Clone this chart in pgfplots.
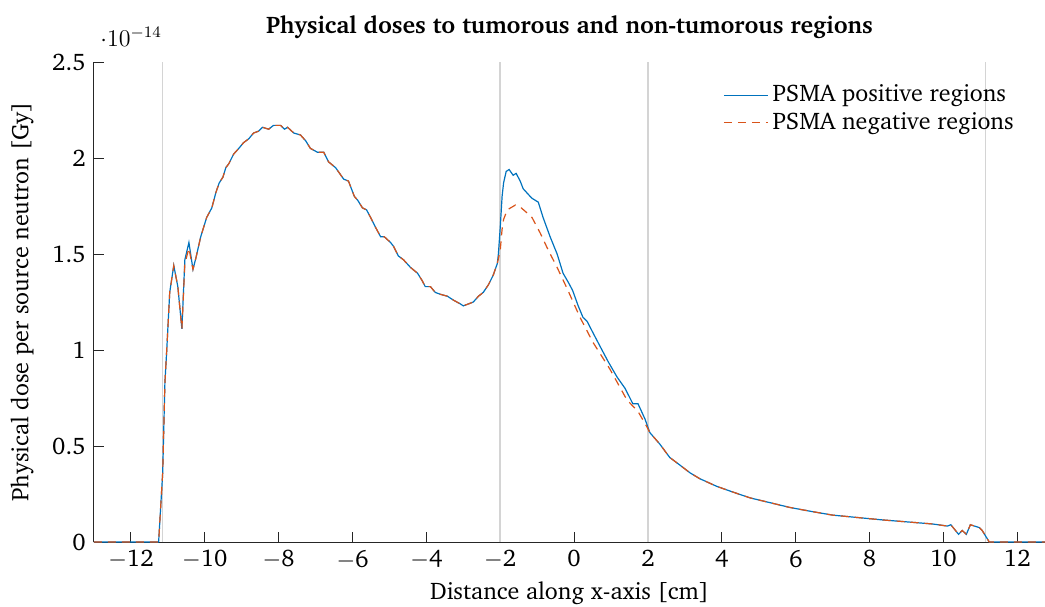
\documentclass[border=0pt]{standalone}
\usepackage[T1]{fontenc}
\renewcommand{\rmdefault}{bch}
\usepackage{pgfplots}
\pgfplotsset{compat=1.18}
\definecolor{mblue}{rgb}{0,0.447,0.741}
\definecolor{morange}{rgb}{0.85,0.325,0.098}
\definecolor{axgray}{rgb}{0.15,0.15,0.15}
\begin{document}
\fontsize{12pt}{14pt}\selectfont
\begin{tikzpicture}
\begin{axis}[
  name=ax,
  scale only axis,
  width=475.5pt, height=240pt,
  xmin=-13, xmax=12.75, ymin=0, ymax=2.5,
  axis x line*=bottom, axis y line*=left,
  axis line style={axgray, line width=0.5pt},
  tick style={axgray, line width=0.5pt},
  tick align=inside,
  major tick length=5pt,
  xtick={-12,-10,...,12},
  xticklabels={$-$12,$-$10,$-$8,$-$6,$-$4,$-$2,0,2,4,6,8,10,12},
  ytick={0,0.5,1,1.5,2,2.5},
  yticklabels={0,0.5,1,1.5,2,2.5},
  scaled y ticks=false,
  ticklabel style={font=\fontsize{12pt}{14pt}\selectfont},
  xlabel={Distance along x-axis [cm]},
  ylabel={Physical dose per source neutron [Gy]},
  label style={font=\fontsize{12pt}{14pt}\selectfont},
  every axis x label/.append style={at={(axis description cs:0.5,-0.106)}, anchor=center},
  every axis y label/.append style={at={(axis description cs:-0.0757,0.5)}, anchor=center},
  title={\textbf{Physical doses to tumorous and non-tumorous regions}},
  title style={font=\fontsize{12pt}{14pt}\selectfont, at={(axis description cs:0.5,1.048)}, anchor=center},
  legend style={at={(0.978,0.97)}, anchor=north east, draw=none, fill=none,
    font=\fontsize{12pt}{14pt}\selectfont, row sep=-0.5pt},
  legend image code/.code={\draw[#1] (0pt,0pt) -- (22pt,0pt);},
  legend cell align=left,
  clip=false,
]
\addplot[forget plot, color=black!17, line width=0.8pt] coordinates {(-11.14,0) (-11.14,2.5)};
\addplot[forget plot, color=black!17, line width=0.8pt] coordinates {(-2,0) (-2,2.5)};
\addplot[forget plot, color=black!17, line width=0.8pt] coordinates {(2,0) (2,2.5)};
\addplot[forget plot, color=black!17, line width=0.8pt] coordinates {(11.14,0) (11.14,2.5)};
\addplot[color=mblue, line width=0.6pt] coordinates {
(-13,0) (-11.25,0) (-11.14,0.36) (-11.08,0.83) (-11.03,1.0) (-10.95,1.30) (-10.84,1.44) (-10.73,1.33) (-10.62,1.11) (-10.54,1.47) (-10.43,1.56) (-10.32,1.42) (-10.24,1.48) (-10.11,1.59) (-9.95,1.69) (-9.81,1.74) (-9.70,1.82) (-9.61,1.87) (-9.51,1.90) (-9.43,1.95) (-9.35,1.97) (-9.22,2.02) (-9.08,2.05) (-8.95,2.08) (-8.81,2.10) (-8.68,2.13) (-8.54,2.14) (-8.44,2.16) (-8.27,2.15) (-8.14,2.17) (-7.95,2.17) (-7.84,2.15) (-7.76,2.16) (-7.59,2.13) (-7.41,2.12) (-7.27,2.09) (-7.14,2.05) (-6.95,2.03) (-6.78,2.03) (-6.65,1.98) (-6.46,1.95) (-6.24,1.89) (-6.11,1.88) (-5.95,1.80) (-5.86,1.78) (-5.73,1.74) (-5.62,1.73) (-5.51,1.69) (-5.38,1.64) (-5.24,1.59) (-5.14,1.59) (-4.97,1.56) (-4.89,1.54) (-4.76,1.49) (-4.62,1.47) (-4.43,1.43) (-4.24,1.40) (-4.11,1.36) (-4.03,1.33) (-3.89,1.33) (-3.76,1.30) (-3.62,1.29) (-3.43,1.28) (-3.27,1.26) (-3.08,1.24) (-3.0,1.23) (-2.86,1.24) (-2.73,1.25) (-2.59,1.28) (-2.46,1.30) (-2.32,1.34) (-2.19,1.39) (-2.08,1.45) (-2.05,1.50) (-2.0,1.64) (-1.95,1.80) (-1.91,1.87) (-1.84,1.93) (-1.76,1.94) (-1.65,1.91) (-1.57,1.92) (-1.46,1.88) (-1.38,1.84) (-1.19,1.80) (-1.14,1.79) (-0.97,1.77) (-0.84,1.69) (-0.65,1.59) (-0.46,1.50) (-0.3,1.40) (-0.15,1.35) (-0.04,1.31) (0.11,1.23) (0.24,1.17) (0.35,1.15) (0.51,1.09) (0.70,1.02) (0.92,0.94) (1.16,0.86) (1.38,0.80) (1.59,0.72) (1.73,0.72) (1.92,0.64) (2.05,0.57) (2.32,0.51) (2.59,0.44) (2.8,0.41) (3.14,0.36) (3.4,0.33) (3.86,0.29) (4.3,0.26) (4.76,0.23) (5.3,0.205) (5.84,0.18) (6.4,0.16) (7.0,0.14) (7.7,0.127) (8.35,0.115) (9.0,0.105) (9.7,0.094) (10.11,0.083) (10.2,0.09) (10.41,0.04) (10.51,0.06) (10.62,0.04) (10.73,0.09) (10.97,0.075) (11.05,0.06) (11.24,0) (12.75,0)
};
\addlegendentry{PSMA positive regions}
\addplot[color=morange, line width=0.6pt, dash pattern=on 4pt off 3pt] coordinates {
(-13,0) (-11.25,0) (-11.14,0.36) (-11.08,0.83) (-11.03,1.0) (-10.95,1.30) (-10.84,1.44) (-10.73,1.33) (-10.62,1.11) (-10.54,1.45) (-10.43,1.53) (-10.32,1.42) (-10.24,1.48) (-10.11,1.59) (-9.95,1.69) (-9.81,1.74) (-9.70,1.82) (-9.61,1.87) (-9.51,1.90) (-9.43,1.95) (-9.35,1.97) (-9.22,2.02) (-9.08,2.05) (-8.95,2.08) (-8.81,2.10) (-8.68,2.13) (-8.54,2.14) (-8.44,2.16) (-8.27,2.15) (-8.14,2.17) (-7.95,2.17) (-7.84,2.15) (-7.76,2.16) (-7.59,2.13) (-7.41,2.12) (-7.27,2.09) (-7.14,2.05) (-6.95,2.03) (-6.78,2.03) (-6.65,1.98) (-6.46,1.95) (-6.24,1.89) (-6.11,1.88) (-5.95,1.80) (-5.86,1.78) (-5.73,1.74) (-5.62,1.73) (-5.51,1.69) (-5.38,1.64) (-5.24,1.59) (-5.14,1.59) (-4.97,1.56) (-4.89,1.54) (-4.76,1.49) (-4.62,1.47) (-4.43,1.43) (-4.24,1.40) (-4.11,1.36) (-4.03,1.33) (-3.89,1.33) (-3.76,1.30) (-3.62,1.29) (-3.43,1.28) (-3.27,1.26) (-3.08,1.24) (-3.0,1.23) (-2.86,1.24) (-2.73,1.25) (-2.59,1.28) (-2.46,1.30) (-2.32,1.34) (-2.19,1.39) (-2.08,1.45) (-2.0,1.52) (-1.95,1.63) (-1.91,1.68) (-1.81,1.73) (-1.59,1.755) (-1.46,1.745) (-1.19,1.70) (-1.14,1.69) (-0.92,1.61) (-0.70,1.52) (-0.46,1.43) (-0.19,1.32) (0.16,1.17) (0.51,1.04) (0.97,0.90) (1.43,0.74) (1.73,0.68) (1.97,0.60) (2.05,0.57) (2.32,0.51) (2.59,0.44) (2.8,0.41) (3.14,0.36) (3.4,0.33) (3.86,0.29) (4.3,0.26) (4.76,0.23) (5.3,0.205) (5.84,0.18) (6.4,0.16) (7.0,0.14) (7.7,0.127) (8.35,0.115) (9.0,0.105) (9.7,0.094) (10.11,0.083) (10.2,0.09) (10.41,0.04) (10.51,0.06) (10.62,0.04) (10.73,0.09) (10.97,0.075) (11.05,0.06) (11.24,0) (12.75,0)
};
\addlegendentry{PSMA negative regions}
\node[anchor=west, font=\fontsize{12pt}{14pt}\selectfont, inner sep=0pt] at (rel axis cs:0,1) [yshift=12.5pt, xshift=3pt] {$\cdot 10^{-14}$};
\end{axis}
\pgfresetboundingbox
\path[use as bounding box] ([shift={(-47pt,-32pt)}]ax.south west) rectangle ([shift={(0pt,31pt)}]ax.north east);
\end{tikzpicture}
\end{document}
